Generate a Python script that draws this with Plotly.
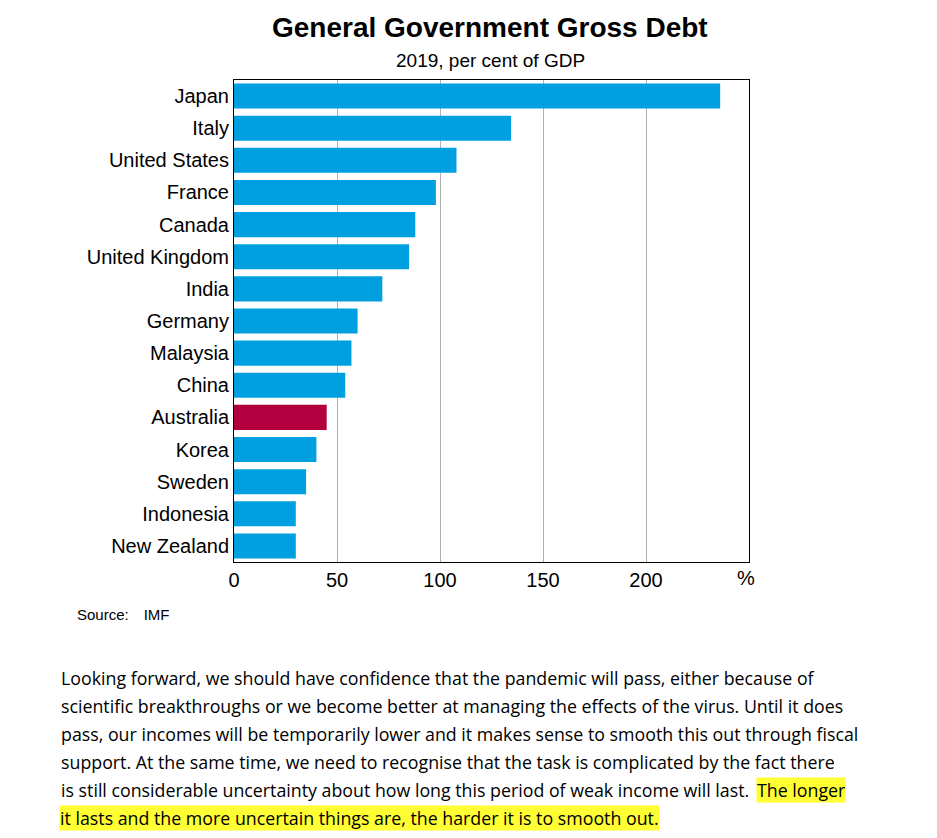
import plotly.graph_objects as go

countries = ["Japan", "Italy", "United States", "France", "Canada", "United Kingdom", "India",
             "Germany", "Malaysia", "China", "Australia", "Korea", "Sweden", "Indonesia", "New Zealand"]
debt = [236, 134.5, 108, 98, 88, 85, 72, 60, 57, 54, 45, 40, 35, 30, 30]
x_ticks = [0, 50, 100, 150, 200]

BLUE = "#00a0e0"
RED = "#b2003e"
colours = [RED if c == "Australia" else BLUE for c in countries]

# page has an 8px offset, so pixel positions are shifted
OFF = 8
L, R, T, B, W, H = 234 - OFF, 749 - OFF, 80 - OFF, 562 - OFF, 937, 838


def px(x):
    return (x - OFF - L) / (R - L)


def py(y):
    return (B - (y - OFF)) / (B - T)


fig = go.Figure(go.Bar(x=debt, y=countries, orientation="h", marker=dict(color=colours, line_width=0)))

fig.update_layout(
    width=W, height=H, plot_bgcolor="white", paper_bgcolor="white",
    margin=dict(l=L, r=W - R, t=T, b=H - B), bargap=0.22, showlegend=False,
    font=dict(family="Liberation Sans, Arial", color="black"),
)
fig.update_xaxes(range=[0, 250], tickvals=x_ticks, tickfont_size=20, showgrid=True,
                 gridcolor="#b0b0b0", gridwidth=1, zeroline=False, showline=True,
                 linecolor="black", mirror=True, ticks="")
fig.update_yaxes(autorange="reversed", categoryorder="array", categoryarray=countries,
                 tickfont_size=20, showline=True, linecolor="black", mirror=True, ticks="")

ann = [
    dict(x=px(490), y=py(28), text="<b>General Government Gross Debt</b>", font_size=28, xanchor="center"),
    dict(x=px(490), y=py(61), text="2019, per cent of GDP", font_size=19, xanchor="center"),
    dict(x=px(746), y=py(578), text="%", font_size=20, xanchor="center"),
    dict(x=px(75), y=py(614), text="Source:\u2003IMF", font_size=15, xanchor="left"),
]
for a in ann:
    a.update(xref="paper", yref="paper", showarrow=False, yanchor="middle")
    fig.add_annotation(**a)

TXT = dict(family="Open Sans", size=17.8, color="black")
para = [
    "Looking forward, we should have confidence that the pandemic will pass, either because of",
    "scientific breakthroughs or we become better at managing the effects of the virus. Until it does",
    "pass, our incomes will be temporarily lower and it makes sense to smooth this out through fiscal",
    "support. At the same time, we need to recognise that the task is complicated by the fact there",
    "is still considerable uncertainty about how long this period of weak income will last.",
]
for i, line in enumerate(para):
    fig.add_annotation(x=px(59), y=py(678 + 28 * i), xref="paper", yref="paper", text=line,
                       showarrow=False, xanchor="left", yanchor="middle", font=TXT)
fig.add_annotation(x=px(846), y=py(790), xref="paper", yref="paper", text="The longer",
                   showarrow=False, xanchor="right", yanchor="middle", bgcolor="#ffff33", borderpad=0,
                   font=TXT)
fig.add_annotation(x=px(59), y=py(818), xref="paper", yref="paper",
                   text="it lasts and the more uncertain things are, the harder it is to smooth out.",
                   showarrow=False, xanchor="left", yanchor="middle", bgcolor="#ffff33", borderpad=0,
                   font=TXT)

fig.write_html("out.html")
